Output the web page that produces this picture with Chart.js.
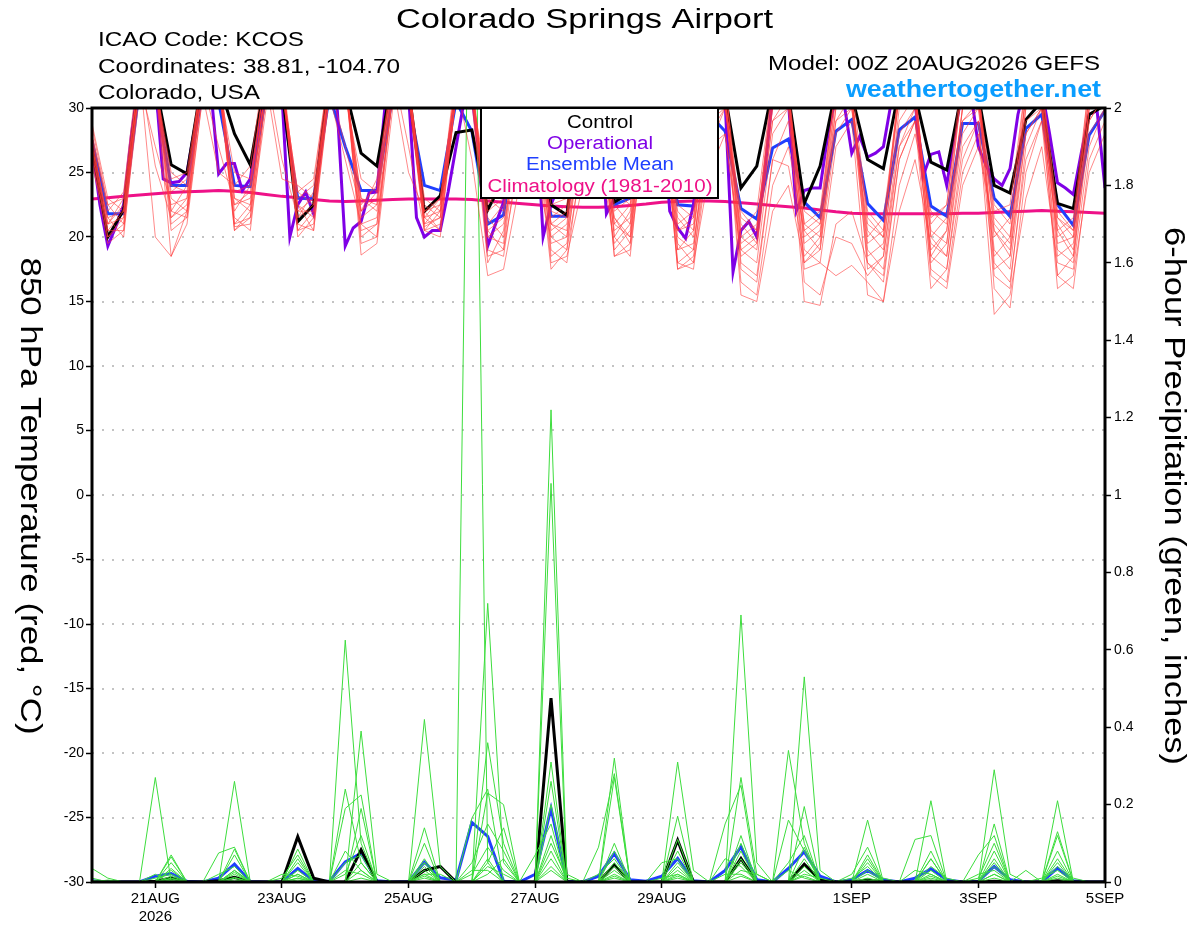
<!DOCTYPE html>
<html>
<head>
<meta charset="utf-8">
<script src="https://cdn.jsdelivr.net/npm/chart.js@4"></script>
<style>
  body { margin: 0; background: #fff; }
  canvas { display: block; }
</style>
</head>
<body>
<canvas id="chart" width="1200" height="927"></canvas>
<script>
// x positions are 6-hour steps from 20AUG2026 00Z (0) to 5SEP 00Z (64)
const tickPos = [4, 12, 20, 28, 36, 48, 56, 64];
const tickLabels = [["21AUG", "2026"], "23AUG", "25AUG", "27AUG", "29AUG", "1SEP", "3SEP", "5SEP"];

// 850 hPa temperature (C), 6-hourly
const controlTemp = [27.0,
  20.0,22.1,32.5,32.0, 25.6,24.9,32.5,32.0, 28.0,25.6,32.5,31.5, 21.2,22.5,32.5,31.5,
  26.5,25.5,32.5,31.5, 22.0,23.2,28.1,28.3, 22.1,24.5,31.5,31.0, 22.5,21.7,31.5,31.5,
  22.7,23.4,32.0,31.5, 23.6,23.2,31.5,31.0, 23.8,25.5,31.5,31.0, 22.6,25.5,31.5,31.0,
  26.0,25.3,31.5,31.0, 25.8,25.2,31.5,31.0, 24.0,23.4,29.1,30.5, 22.6,22.2,29.5,30.2];
const meanTemp = [27.5,
  21.8,21.8,31.5,31.0, 24.0,24.0,31.5,30.5, 24.0,23.9,31.0,30.5, 23.0,23.0,31.0,27.0,
  23.6,23.6,31.0,30.5, 24.0,23.6,30.5,28.2, 21.0,21.7,30.5,30.0, 21.6,21.6,30.5,30.5,
  22.5,23.0,30.5,30.0, 22.5,22.4,29.5,28.2, 22.2,21.4,26.9,27.6, 22.7,21.5,28.2,29.1,
  22.6,21.3,28.3,29.3, 22.4,21.6,28.8,28.8, 23.0,21.6,28.4,29.5, 22.5,20.9,27.9,29.8];
const climTemp = [22.95,
  23.05,23.15,23.25,23.35, 23.45,23.5,23.55,23.6, 23.55,23.45,23.3,23.15, 23.05,22.9,22.8,22.75,
  22.8,22.85,22.9,22.95, 22.95,22.95,22.95,22.9, 22.8,22.7,22.6,22.5, 22.4,22.35,22.3,22.3,
  22.35,22.45,22.55,22.7, 22.75,22.8,22.8,22.75, 22.65,22.55,22.45,22.35, 22.25,22.1,21.95,21.85,
  21.8,21.8,21.8,21.8, 21.8,21.8,21.85,21.85, 21.9,21.95,22.0,22.05, 22.0,21.95,21.9,21.85];
// operational run is 3-hourly (half steps)
const opTemp = [
  27.0,22.5,19.3,20.8,22.5,28.0,32.5,33.0, 32.0,24.5,24.2,24.3,25.0,28.5,32.0,31.5,
  24.9,25.7,25.7,23.6,24.5,28.5,32.0,33.0, 31.0,20.0,22.5,23.5,21.8,27.5,32.0,29.8,
  19.3,20.7,21.2,23.4,23.5,30.0,32.0,33.0, 31.0,21.5,20.0,20.5,20.5,23.5,27.0,30.5,
  31.0,26.0,19.3,21.0,22.7,27.0,32.0,32.0, 31.0,20.0,22.5,24.0,28.0,32.0,32.0,32.0,
  31.0,21.8,23.0,24.0,25.0,29.0,32.0,32.0, 31.0,22.0,20.7,19.9,22.5,27.0,31.0,32.0,
  30.5,17.3,20.5,21.2,20.0,25.0,31.0,32.0, 30.5,22.0,23.6,23.8,23.8,28.0,31.0,30.5,
  26.5,27.8,26.2,26.5,27.0,30.5,32.0,32.0, 30.5,24.7,26.4,26.6,24.0,28.0,31.5,31.5,
  27.0,25.5,24.5,24.0,25.3,29.5,32.0,32.0, 31.5,28.0,24.2,23.8,23.3,26.5,29.5,29.8,
  23.8];

// ensemble members, temperature
const memberTemps = [
  [27.5, 21.0,22.5,33,32, 24.0,23.5,33,32, 25.0,24.5,33,31.5, 22.0,23.0,32,32, 23.0,22.5,33,32, 21.5,22.0,32,31, 20.5,21.5,31,31, 21.0,20.5,32,31,
   22.0,23.0,33,32, 20.5,21.0,32,31, 19.5,20.5,30.5,31, 21.0,22.0,32,32, 21.5,20.0,32,31.5, 20.0,21.5,32,31, 22.5,21.0,32,32, 21.5,20.0,31,30.5],
  [26.5, 20.0,21.0,32,27, 22.5,23.0,33,33, 23.0,22.0,32,32, 23.5,24.5,33,32, 21.0,20.0,32,31, 22.0,22.5,33,32, 19.0,18.5,27,28, 22.0,21.5,31,30.5,
   19.0,20.5,31,31, 22.5,21.5,32,33, 17.5,16.5,26,25.5, 18.5,20.0,29,31, 20.0,21.5,31,32, 18.0,19.5,29,30.5, 21.0,19.5,31,32, 19.0,18.0,29,31],
  [28.0, 22.0,23.5,34,33, 21.0,22.0,32,32, 22.5,23.5,33,32, 21.0,20.5,32,31, 24.5,23.5,33,27, 20.5,21.0,31,32, 22.0,23.0,33,32, 18.5,19.5,28,30.5,
   23.5,22.5,32,31, 18.0,19.0,29,30, 21.5,20.5,31,31, 16.5,15.5,20,19.5, 17.0,18.5,28,30, 21.0,22.5,33,32, 16.0,14.5,25,29, 20.5,21.5,32,32],
  [26.0, 19.5,20.5,31,32, 25.0,24.0,33,32, 21.0,22.5,32,33, 22.5,21.5,32,32, 19.5,20.0,31,31, 21.0,22.5,32,26, 17.0,17.5,24,25, 20.0,19.0,30,31,
   21.0,20.0,31,32, 19.5,18.0,29,30.5, 20.5,22.0,32,32, 19.0,18.0,27,29, 15.5,15.0,22,26, 19.5,18.5,28,30, 18.5,20.0,30,31, 17.0,16.0,26,29],
  [27.0, 21.5,20.0,32,32, 18.5,21.0,31,25, 24.0,25.5,34,33, 20.0,21.5,31,32, 22.5,24.0,33,32, 22.5,21.5,32,32, 21.5,20.0,30,31, 19.0,18.0,27,29,
   20.5,21.5,31,32, 21.0,22.0,32,31, 16.5,15.5,24,27, 20.5,21.5,32,31, 19.0,17.5,27,30, 17.5,16.5,25,28, 20.0,21.5,31,32, 22.0,20.5,32,32],
  [28.5, 22.5,23.0,33,20.0, 18.5,22.0,32,33, 20.5,21.5,31,32, 23.0,24.0,33,33, 18.6,19.5,30,31, 20.5,20.0,31,30.5, 18.0,20.5,29,30, 21.5,22.5,32,32,
   18.5,19.0,29,31, 17.5,18.5,27,28, 19.0,18.0,28,30, 15.0,14.7,21,22, 18.0,17.0,26,29, 16.0,17.5,26,29, 17.0,16.0,27,30, 18.5,19.5,29,31],
  [27.2, 20.5,22.0,32,32, 23.5,24.5,33,32, 20.5,22.0,32,24.5, 24.0,23.0,33,32, 22.0,23.5,32,32, 23.0,22.0,32,31, 22.5,24.0,33,32, 20.0,21.0,31,31,
   18.5,19.5,29,30, 20.0,19.0,30,31, 18.0,17.0,26,29, 22.0,21.0,32,31, 18.5,19.5,29,31, 20.5,19.5,30,31, 19.0,17.5,28,30, 16.0,17.0,25,28],
  [25.5, 21.0,21.5,32,33, 22.0,24.0,33,33, 21.5,20.5,31,32, 20.5,22.0,32,32, 21.5,22.5,32,32, 20.8,21.5,31,31, 23.0,22.0,32,29, 17.5,19.0,26,27,
   19.5,21.0,30,31, 22.0,20.5,31,32, 21.0,19.5,30,31, 17.5,18.0,17.0,17.8, 16.5,15.0,24,28, 22.0,21.0,32,31, 17.5,18.5,28,30, 21.0,19.0,30,31],
  [28.8, 23.0,22.0,33,32, 21.5,23.0,32,32, 22.0,24.0,33,26, 21.5,22.5,32,32, 20.5,21.0,31,31, 21.5,23.0,32,32, 20.0,19.5,30,31, 22.5,23.0,32,32,
   20.0,18.5,30,31, 18.0,17.5,27,30, 22.0,20.5,32,31, 19.5,20.5,30,31, 21.0,20.0,31,31, 17.0,16.0,24,27, 20.5,19.0,30,31, 19.5,20.0,30,31],
  [26.8, 20.0,21.5,32,32, 20.5,21.5,31,32, 23.5,24.0,33,33, 20.5,21.0,31,26, 21.0,21.5,31,32, 20.5,22.0,31,32, 20.0,21.0,28,30, 18.0,18.5,24,26,
   21.5,20.0,31,31, 19.0,20.5,30,31, 15.5,15.0,22,24, 18.0,19.0,28,30, 20.5,19.0,30,31, 18.5,17.5,27,29, 14.0,15.5,23,27, 18.0,17.5,27,30],
  [27.8, 22.5,21.0,32,32, 23.0,22.0,33,32, 21.0,21.5,31,32, 22.0,22.0,32,32, 23.0,22.0,32,25, 22.0,20.5,31,31, 18.5,19.0,26,29, 21.0,22.0,32,31,
   20.0,22.0,31,32, 21.5,20.0,31,31, 19.0,20.0,30,31, 18.0,19.5,29,30, 22.0,20.5,32,31, 19.0,20.5,30,31, 21.5,20.0,31,31, 20.0,21.0,31,32],
  [26.2, 21.5,22.0,33,25.5, 21.5,22.5,32,33, 20.8,21.0,30,32, 22.5,20.5,31,32, 20.0,21.0,31,32, 21.5,20.5,31,31, 24.0,23.0,33,32, 21.0,20.0,31,30,
   22.5,21.0,32,31, 17.5,18.0,25,28, 18.5,19.5,29,30, 20.0,21.0,31,31, 17.5,18.5,27,29, 21.5,22.5,32,32, 18.0,16.5,26,29, 17.0,18.5,28,30],
  [27.0, 20.5,20.5,32,32, 22.0,21.5,32,27, 22.5,23.0,32,32, 21.5,23.5,32,32, 22.0,23.0,32,32, 21.0,21.5,31,31, 20.5,19.0,29,31, 20.5,21.5,31,31,
   21.5,19.5,31,31, 20.5,21.5,31,32, 20.0,21.0,31,31, 21.0,20.0,31,31, 19.5,20.5,31,31, 20.0,18.5,29,30, 22.0,22.5,32,32, 20.5,18.5,30,31],
  [27.6, 21.0,23.0,33,32, 24.5,25.0,33,33, 23.0,22.5,32,32, 23.5,22.5,32,27, 22.0,24.5,33,32, 22.0,23.0,32,32, 21.0,22.5,31,31, 19.5,20.0,29,31,
   21.0,22.5,32,31, 19.0,19.5,28,30, 20.0,19.0,29,31, 20.5,19.0,30,30, 18.0,16.5,26,29, 18.5,20.5,30,31, 20.5,18.5,29,30, 21.5,20.5,31,31]
];

// 6-hour precipitation (inches)
const controlPrecip = [0,
  0,0,0,.002, .01,0,0,.003, .012,0,0,0, .117,.01,0,0, .083,0,0,0, .03,.04,0,0, 0,0,0,0, .475,0,0,0,
  .044,0,0,0, .108,0,0,0, .061,0,0,0, .046,.005,0,0, .005,0,0,0, .002,0,0,0, .002,0,0,0, .003,0,0,0];
const meanPrecip = [.003,
  0,0,0,.015, .022,.002,0,.01, .046,.001,0,0, .035,.002,.002,.052, .074,.003,0,.001, .051,.011,.005,.154, .118,.002,0,.02, .19,.002,0,.015,
  .074,.006,.002,.015, .061,.003,0,.03, .091,.006,0,.035, .078,.015,0,.006, .03,.006,0,.01, .034,.006,0,.002, .04,.006,0,0, .036,.003,0,0];
const memberPrecip = [
  [.035, .01,0,0,.27, 0,0,0,0, .03,0,0,0, .02,0,0,.24, .05,0,0,0, .05,0,0,3.0, .05,0,0,0, .12,0,0,0,
   .32,0,0,0, .08,0,0,0, .27,.02,0,0, .195,0,0,0, .07,0,0,0, .06,0,0,0, .29,.02,0,0, .13,0,0,0],
  [0, 0,0,0,0, .07,0,0,0, .26,0,0,0, .085,0,0,.625, .1,0,0,0, .14,0,0,0, .72,.05,0,0, 1.22,.02,0,0,
   .1,0,0,0, .31,.03,0,0, .69,.05,0,0, .09,0,0,0, .16,0,0,0, .02,0,0,0, .15,0,0,0, .21,0,0,0],
  [0, 0,0,0,0, .065,0,0,.075, .09,0,0,.01, .07,0,0,0, .39,.02,0,0, .42,.04,0,0, .36,.1,0,0, 1.03,0,0,.09,
   .28,0,0,0, .17,0,0,.15, .25,0,0,.34, .1,0,0,.02, .09,0,0,.11, .12,0,0,.07, .12,0,0,0, .12,0,0,0],
  [0, 0,0,0,0, .035,0,0,0, .085,0,0,0, .05,0,0,.19, .225,0,0,0, .1,0,0,.165, .24,0,0,0, .31,0,0,0,
   .27,0,0,.05, .06,0,0,0, .08,0,0,0, .53,.03,0,0, .05,0,0,0, .21,0,0,0, .05,0,.03,0, .05,0,0,0],
  [.004, 0,0,0,0, .03,0,0,0, .07,0,0,0, .03,0,0,0, .19,0,0,0, .05,0,0,0, .23,.2,0,0, .26,0,0,0,
   .08,0,0,0, .05,0,0,0, .12,0,0,.16, .08,0,0,0, .03,0,0,0, .06,0,0,0, .08,0,0,0, .04,0,0,0],
  [0, 0,0,0,0, .01,0,0,0, .03,0,0,0, .02,0,0,.05, .07,0,0,0, .03,0,0,.05, .15,.08,0,0, .2,0,0,0,
   .05,0,0,0, .03,0,0,0, .06,0,0,0, .06,0,0,0, .02,0,0,0, .03,0,0,0, .04,0,0,0, .02,0,0,0],
  [0, .005,0,0,0, .05,0,0,0, .02,0,0,0, .01,0,0,0, .05,0,0,0, .02,.02,0,0, .05,.14,0,.07, .15,0,0,0,
   .04,0,0,0, .02,0,0,.06, .04,0,0,.05, .12,0,0,0, 0,.01,0,0, .01,0,0,.02, .03,0,0,0, 0,.01,0,0],
  [0, 0,0,0,.01, .02,0,0,.02, .04,0,0,0, .005,0,0,.08, .03,0,0,0, .04,0,0,.02, .09,.03,0,0, .08,0,0,.02,
   .06,0,0,0, .04,0,0,0, .03,.02,0,0, .04,0,0,0, .01,0,0,.03, .02,0,0,0, .02,0,0,0, .01,0,0,0],
  [.01, 0,0,0,0, .015,0,0,0, .025,0,0,.02, .015,0,0,.02, .12,0,0,0, .02,0,0,0, .06,0,0,0, .1,.01,0,0,
   .03,0,0,.01, .02,0,0,0, .1,0,0,0, .03,0,0,.01, .04,0,0,0, .08,0,0,0, .01,0,0,.01, .03,0,0,0],
  [0, 0,0,0,0, .008,0,0,0, .01,0,0,0, .06,0,0,0, .03,0,0,0, .015,0,0,0, .04,.02,0,0, .06,0,0,0,
   .02,0,0,0, .11,0,0,0, .05,0,0,0, .02,.01,0,0, .06,0,0,0, .04,.01,0,0, .06,0,0,0, .06,0,0,0],
  [0, 0,0,0,0, .004,0,0,0, .005,0,0,0, 0,0,0,.03, .02,0,0,0, .01,0,0,.03, .03,0,0,0, .04,0,0,0,
   .015,0,0,0, .015,0,0,.02, .02,0,0,0, .015,0,0,0, .005,0,0,0, .015,0,0,0, .02,0,0,0, .08,0,0,0],
  [0, 0,0,0,.02, 0,0,0,0, .012,0,0,0, .01,0,0,0, .01,0,0,0, .06,0,0,0, .02,.06,0,0, .03,0,0,0,
   .01,0,0,0, .01,0,0,0, .015,0,0,.03, .01,0,0,0, 0,0,0,0, .005,0,0,.01, .1,0,0,0, .015,0,0,0]
];

const FONT = "'Liberation Sans', Arial, Helvetica, sans-serif";
Chart.defaults.font.family = FONT;

const pts = (arr, step) => arr.map((v, k) => ({ x: k * step, y: v }));
const line = (data, axis, color, width) => ({
  data: data, yAxisID: axis, borderColor: color, borderWidth: width,
  pointRadius: 0, tension: 0, fill: false, clip: 0
});

const datasets = [];
memberTemps.forEach(m => datasets.push(line(pts(m, 1), "y", "rgba(255,60,60,0.6)", 1)));
memberPrecip.forEach(m => datasets.push(line(pts(m, 1), "yP", "#3ddd3d", 1)));
datasets.push(line(pts(controlPrecip, 1), "yP", "#000000", 3));
datasets.push(line(pts(meanPrecip, 1), "yP", "#1f3fff", 3));
datasets.push(line(pts(controlTemp, 1), "y", "#000000", 3));
datasets.push(line(pts(opTemp, 0.5), "y", "#7f00e6", 3));
datasets.push(line(pts(meanTemp, 1), "y", "#1f3fff", 3));
datasets.push(line(pts(climTemp, 1), "y", "#ee1188", 3));

// draw text stretched to a given width
function fitText(ctx, txt, x, y, font, color, width, align, rot) {
  ctx.save();
  ctx.font = font;
  ctx.fillStyle = color;
  ctx.textAlign = "left";
  ctx.textBaseline = "alphabetic";
  const sx = width / ctx.measureText(txt).width;
  ctx.translate(x, y);
  if (rot) ctx.rotate(rot);
  ctx.scale(sx, 1);
  const off = align === "left" ? 0 : align === "right" ? -width : -width / 2;
  ctx.fillText(txt, off / sx, 0);
  ctx.restore();
}

const decor = {
  id: "decor",
  beforeDatasetsDraw(chart) {
    const { ctx, chartArea: a, scales } = chart;
    ctx.save();
    ctx.strokeStyle = "#b0b0b0";
    ctx.lineWidth = 1.5;
    ctx.setLineDash([2, 8]);
    scales.y.ticks.forEach(t => {
      if (t.value <= -30 || t.value >= 30) return;
      const y = Math.round(scales.y.getPixelForValue(t.value));
      ctx.beginPath();
      ctx.moveTo(a.left, y);
      ctx.lineTo(a.right, y);
      ctx.stroke();
    });
    ctx.restore();
  },
  afterDatasetsDraw(chart) {
    const { ctx, chartArea: a } = chart;
    ctx.save();
    ctx.strokeStyle = "#000";
    ctx.lineWidth = 3;
    ctx.strokeRect(a.left, a.top, a.right - a.left, a.bottom - a.top);
    // legend box
    ctx.fillStyle = "#fff";
    ctx.fillRect(481, 108, 237, 90);
    ctx.lineWidth = 2;
    ctx.strokeRect(481, 108, 237, 90);
    ctx.restore();
    fitText(ctx, "Control", 600, 127.5, "18px " + FONT, "#000", 66, "center");
    fitText(ctx, "Operational", 600, 148.5, "18px " + FONT, "#7f00e6", 106, "center");
    fitText(ctx, "Ensemble Mean", 600, 170, "18px " + FONT, "#1f3fff", 148, "center");
    fitText(ctx, "Climatology (1981-2010)", 600, 191.5, "18px " + FONT, "#ee1188", 225, "center");
  },
  afterDraw(chart) {
    const ctx = chart.ctx;
    fitText(ctx, "Colorado Springs Airport", 584.5, 27.5, "27px " + FONT, "#000", 377, "center");
    fitText(ctx, "ICAO Code: KCOS", 98, 46, "20px " + FONT, "#000", 206, "left");
    fitText(ctx, "Coordinates: 38.81, -104.70", 98, 72.5, "20px " + FONT, "#000", 302, "left");
    fitText(ctx, "Colorado, USA", 98, 99, "20px " + FONT, "#000", 162, "left");
    fitText(ctx, "Model: 00Z 20AUG2026 GEFS", 1100, 70, "20px " + FONT, "#000", 332, "right");
    fitText(ctx, "weathertogether.net", 1101, 97, "bold 23px " + FONT, "#0a9dff", 255, "right");
    fitText(ctx, "850 hPa Temperature (red, \u00B0C)", 21, 496, "30px " + FONT, "#000", 477, "center", Math.PI / 2);
    fitText(ctx, "6-hour Precipitation (green, inches)", 1165, 496, "30px " + FONT, "#000", 538, "center", Math.PI / 2);
  }
};

new Chart(document.getElementById("chart").getContext("2d"), {
  type: "line",
  data: { datasets: datasets },
  plugins: [decor],
  options: {
    responsive: false,
    animation: false,
    devicePixelRatio: 1,
    layout: { padding: { top: 108, left: 0, right: 0, bottom: 0 } },
    plugins: { legend: { display: false }, tooltip: { enabled: false }, title: { display: false } },
    scales: {
      x: {
        type: "linear", min: 0, max: 64,
        afterBuildTicks: s => { s.ticks = tickPos.map(v => ({ value: v })); },
        afterFit: s => { s.height = 45; },
        grid: { drawOnChartArea: false, drawTicks: true, tickLength: 6, tickColor: "#000", tickWidth: 1.5 },
        border: { display: false },
        ticks: {
          autoSkip: false, maxRotation: 0, padding: 2, color: "#000",
          font: { size: 15 },
          callback: (v, i) => tickLabels[i]
        }
      },
      y: {
        type: "linear", position: "left", min: -30, max: 30,
        afterFit: s => { s.width = 92; },
        grid: { drawOnChartArea: false, drawTicks: true, tickLength: 6, tickColor: "#000", tickWidth: 1.5 },
        border: { display: false },
        ticks: { stepSize: 5, padding: 2, color: "#000", font: { size: 14 } }
      },
      yP: {
        type: "linear", position: "right", min: 0, max: 2,
        afterFit: s => { s.width = 95; },
        grid: { drawOnChartArea: false, drawTicks: true, tickLength: 6, tickColor: "#000", tickWidth: 1.5 },
        border: { display: false },
        ticks: {
          stepSize: 0.2, padding: 3, color: "#000", font: { size: 14 },
          callback: v => String(+v.toFixed(1))
        }
      }
    }
  }
});
</script>
</body>
</html>
